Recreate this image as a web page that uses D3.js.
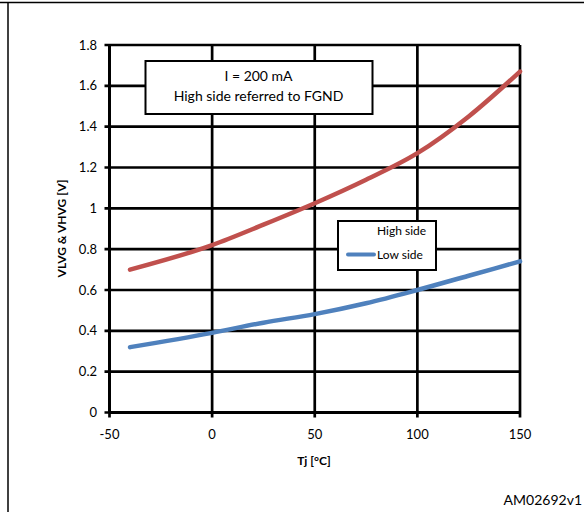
<!DOCTYPE html>
<html><head><meta charset="utf-8">
<script src="https://cdn.jsdelivr.net/npm/d3@7"></script>
<style>body{margin:0;background:#fff}svg{display:block}</style>
</head><body>
<svg id="c" width="584" height="512"></svg>
<script>
const temps = [-40, 0, 25, 50, 75, 100, 125, 150];
const highSide = [0.70, 0.82, 0.92, 1.025, 1.14, 1.27, 1.45, 1.67];
const lowSide = [0.32, 0.39, 0.44, 0.482, 0.535, 0.60, 0.67, 0.74];
const xTicks = [-50, 0, 50, 100, 150];
const yTicks = [0, 0.2, 0.4, 0.6, 0.8, 1, 1.2, 1.4, 1.6, 1.8];
const seriesNames = ["High side", "Low side"];
const seriesColors = ["#C0504D", "#4F81BD"];
const noteLines = ["I = 200 mA", "High side referred to FGND"];

const svg = d3.select("#c");
const font = "Lato, 'Open Sans', sans-serif";
const x = d3.scaleLinear().domain([-50, 150]).range([109.5, 520]);
const y = d3.scaleLinear().domain([0, 1.8]).range([412.5, 45]);

// page frame
svg.append("line").attr("x1", 0).attr("x2", 584).attr("y1", 2.5).attr("y2", 2.5).attr("stroke", "#000").attr("stroke-width", 1.5);
svg.append("line").attr("x1", 8).attr("x2", 8).attr("y1", 2.5).attr("y2", 512).attr("stroke", "#000").attr("stroke-width", 1.5);

// grid
const g = svg.append("g");
g.selectAll(".hg").data(yTicks).join("line")
  .attr("x1", x(-50) - 5).attr("x2", x(150)).attr("y1", d => y(d)).attr("y2", d => y(d))
  .attr("stroke", "#000").attr("stroke-width", 2.7);
g.selectAll(".vg").data(xTicks).join("line")
  .attr("y1", y(1.8)).attr("y2", y(0) + 5).attr("x1", d => x(d)).attr("x2", d => x(d))
  .attr("stroke", "#000").attr("stroke-width", 2.7);
// axis lines
g.append("line").attr("x1", x(-50)).attr("x2", x(-50)).attr("y1", y(1.8)).attr("y2", y(0)).attr("stroke", "#000").attr("stroke-width", 3);
g.append("line").attr("x1", x(-50)).attr("x2", x(150)).attr("y1", y(0)).attr("y2", y(0)).attr("stroke", "#000").attr("stroke-width", 3);

// tick labels
svg.selectAll(".yl").data(yTicks).join("text")
  .attr("x", 97).attr("y", d => y(d)).attr("dy", "0.35em").attr("text-anchor", "end")
  .attr("font-family", font).attr("font-size", 13).text(d => d3.format("")(d));
svg.selectAll(".xl").data(xTicks).join("text")
  .attr("x", d => x(d)).attr("y", 434).attr("dy", "0.35em").attr("text-anchor", "middle")
  .attr("font-family", font).attr("font-size", 13).text(d => d);

// axis titles
svg.append("text").attr("x", 314).attr("y", 461).attr("dy", "0.35em").attr("text-anchor", "middle")
  .attr("font-family", font).attr("font-weight", "bold").attr("font-size", 12).text("Tj [°C]");
svg.append("text").attr("transform", "translate(62,228.5) rotate(-90)").attr("dy", "0.35em").attr("text-anchor", "middle")
  .attr("font-family", font).attr("font-weight", "bold").attr("font-size", 12).text("VLVG & VHVG [V]");

// curves
const line = d3.line().x(d => x(d[0])).y(d => y(d[1])).curve(d3.curveMonotoneX);
[highSide, lowSide].forEach((s, i) => {
  svg.append("path").datum(temps.map((t, k) => [t, s[k]]))
    .attr("d", line).attr("fill", "none").attr("stroke", seriesColors[i]).attr("stroke-width", 4.5)
    .attr("stroke-linecap", "round");
});

// annotation box
svg.append("rect").attr("x", 145.5).attr("y", 61).attr("width", 227).attr("height", 53)
  .attr("fill", "#fff").attr("stroke", "#000").attr("stroke-width", 2);
svg.selectAll(".note").data(noteLines).join("text")
  .attr("x", 258.5).attr("y", (d, i) => 76 + i * 20).attr("dy", "0.35em").attr("text-anchor", "middle")
  .attr("font-family", font).attr("font-size", 14).text(d => d);

// legend
svg.append("rect").attr("x", 338).attr("y", 221).attr("width", 98).attr("height", 49)
  .attr("fill", "#fff").attr("stroke", "#000").attr("stroke-width", 2);
svg.append("text").attr("x", 377).attr("y", 231).attr("dy", "0.35em")
  .attr("font-family", font).attr("font-size", 12).text(seriesNames[0]);
svg.append("line").attr("x1", 348).attr("x2", 374).attr("y1", 254.5).attr("y2", 254.5)
  .attr("stroke", seriesColors[1]).attr("stroke-width", 4).attr("stroke-linecap", "round");
svg.append("text").attr("x", 377).attr("y", 255).attr("dy", "0.35em")
  .attr("font-family", font).attr("font-size", 12).text(seriesNames[1]);

// footer code
svg.append("text").attr("x", 582).attr("y", 500).attr("dy", "0.35em").attr("text-anchor", "end")
  .attr("font-family", font).attr("font-size", 14).text("AM02692v1");
</script>
</body></html>
